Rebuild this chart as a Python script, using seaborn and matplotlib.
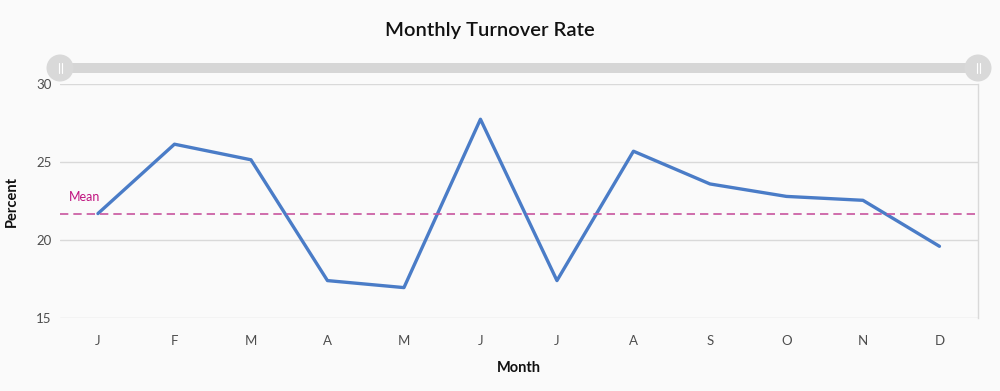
import numpy as np
import pandas as pd
import matplotlib
matplotlib.use("Agg")
import matplotlib.pyplot as plt
import seaborn as sns
from matplotlib.patches import Circle, FancyBboxPatch

# ==========================================
# DATA
# ==========================================
months = ["J", "F", "M", "A", "M", "J", "J", "A", "S", "O", "N", "D"]
turnover = [21.7, 26.15, 25.15, 17.4, 16.95, 27.75, 17.4, 25.7, 23.6, 22.8, 22.55, 19.6]
mean_value = 21.65
y_ticks = [15, 20, 25, 30]

BG = "#fafafa"
LINE = "#4a7cc7"
MEAN = "#c8559e"

sns.set_theme(style="whitegrid")
plt.rcParams["font.family"] = ["Lato", "DejaVu Sans"]

df = pd.DataFrame({"pos": np.arange(len(months)), "Percent": turnover})

fig = plt.figure(figsize=(10, 3.91), dpi=100, facecolor=BG)
ax = fig.add_axes([0.0597, 0.1867, 0.918, 0.598], facecolor=BG)

sns.lineplot(data=df, x="pos", y="Percent", color=LINE, linewidth=2.4, ax=ax)
ax.axhline(mean_value, color=MEAN, linestyle=(0, (5, 3)), linewidth=1.2)
ax.text(-0.17, mean_value + 0.75, "Mean", color="#c0137f", fontsize=9, ha="center", va="bottom")

ax.set_xlim(-0.5, len(months) - 0.5)
ax.set_ylim(15, 30)
ax.set_xticks(df["pos"])
ax.set_xticklabels(months)
ax.set_yticks(y_ticks)
ax.grid(axis="x", visible=False)
ax.grid(axis="y", color="#d9d9d9", linewidth=1)
for side in ["left", "top", "bottom"]:
    ax.spines[side].set_visible(False)
ax.spines["right"].set_color("#d9d9d9")
ax.spines["right"].set_linewidth(1)
ax.spines["right"].set_bounds(15, 30)
ax.tick_params(axis="both", length=0, labelsize=9.5, labelcolor="#4d4d4d", pad=12)
ax.tick_params(axis="y", pad=6)
ax.set_xlabel("Month", fontsize=10.5, fontweight="bold", labelpad=10, color="#111111")
ax.set_ylabel("Percent", fontsize=10.5, fontweight="bold", labelpad=12, color="#111111")

fig.suptitle("Monthly Turnover Rate", fontsize=14.5, fontweight="semibold", y=0.945, x=0.49,
             color="#111111")

# range slider on top
sl = fig.add_axes([0, 0, 1, 1], facecolor="none")
sl.set_xlim(0, 1000)
sl.set_ylim(391, 0)
sl.axis("off")
sl.add_patch(FancyBboxPatch((60, 63), 918, 10, boxstyle="round,pad=0,rounding_size=5",
                            facecolor="#d6d6d6", edgecolor="none"))
for cx in [60, 978]:
    sl.add_patch(Circle((cx, 68), 13.5, facecolor="#d9d9d9", edgecolor="none"))
    sl.plot([cx - 1.5, cx - 1.5], [63, 73], color="white", lw=0.8)
    sl.plot([cx + 1.5, cx + 1.5], [63, 73], color="white", lw=0.8)

fig.savefig("out.png", dpi=100, facecolor=BG)
